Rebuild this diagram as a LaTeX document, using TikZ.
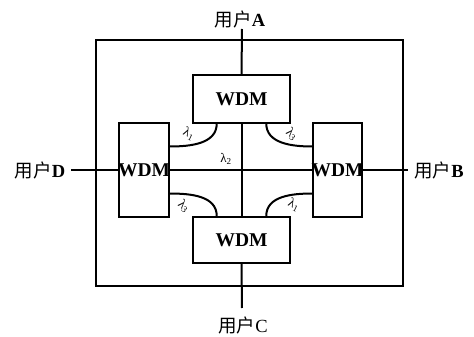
\documentclass[tikz,border=0pt]{standalone}
\usepackage{fontspec}
\setmainfont{Liberation Serif}
\newfontfamily\cjk{Noto Sans CJK SC}
\usetikzlibrary{calc}
\begin{document}
\begin{tikzpicture}[x=1pt,y=-1pt,
  ln/.style={line width=2pt},
  box/.style={draw,line width=2pt,inner sep=0pt,fill=white},
  wdm/.style={font=\fontsize{19.5}{19.5}\selectfont\bfseries,inner sep=0pt},
  user/.style={font=\fontsize{18.5}{18.5}\selectfont,inner sep=1pt},
  lam/.style={font=\fontsize{13}{13}\selectfont,inner sep=0pt}]
\useasboundingbox (0,0) rectangle (474,337);
% outer frame
\node[draw,line width=2pt,minimum width=307pt,minimum height=246pt,inner sep=0pt] (frame) at (249.5,163) {};
% WDM boxes
\node[box,minimum width=97pt,minimum height=47pt] (T) at (241.5,99) {};
\node[box,minimum width=97pt,minimum height=46pt] (B) at (241.5,240) {};
\node[box,minimum width=50pt,minimum height=94pt] (L) at (144,170) {};
\node[box,minimum width=49pt,minimum height=94pt] (R) at (337.5,170) {};
% users
\node[user] (uA) at (240,19) {{\cjk 用户}\textbf{A}};
\node[user] (uC) at (243,325) {{\cjk 用户}C};
\node[user] (uD) at (40,170) {{\cjk 用户}\textbf{D}};
\node[user] (uB) at (439,170) {{\cjk 用户}\textbf{B}};
\coordinate (eA) at (242,29);
\coordinate (eC) at (242,308);
\coordinate (eD) at (71,170);
\coordinate (eB) at (408,170);
% straight connectors
\draw[ln] (eA) -- (T.north);
\draw[ln] (T.south) -- (B.north);
\draw[ln] (B.south) -- (eC);
\draw[ln] (eD) -- (L.west);
\draw[ln] (L.east) -- (R.west);
\draw[ln] (R.east) -- (eB);
% curved connectors
\draw[ln] ($(L.north east)!0.255!(L.south east)$) to[out=0,in=-90] ($(T.south west)!0.25!(T.south east)$);
\draw[ln] ($(R.north west)!0.255!(R.south west)$) to[out=180,in=-90] ($(T.south east)!0.25!(T.south west)$);
\draw[ln] ($(L.south east)!0.255!(L.north east)$) to[out=0,in=90] ($(B.north west)!0.25!(B.north east)$);
\draw[ln] ($(R.south west)!0.255!(R.north west)$) to[out=180,in=90] ($(B.north east)!0.25!(B.north west)$);
% WDM labels
\node[wdm] (Tt) at (T) {WDM};
\node[wdm] (Bt) at (B) {WDM};
\node[wdm] (Lt) at (L.center) {WDM};
\node[wdm] (Rt) at (R.center) {WDM};
% wavelength labels
\node[lam,rotate=-25] (l1) at (189,134) {λ\textsubscript{1}};
\node[lam,rotate=-40] (l3) at (292,134) {λ\textsubscript{3}};
\node[lam] (l2) at (226,159) {λ\textsubscript{2}};
\node[lam,rotate=-40] (l3b) at (184,206) {λ\textsubscript{3}};
\node[lam,rotate=-25] (l1b) at (294,205) {λ\textsubscript{1}};
\end{tikzpicture}
\end{document}
